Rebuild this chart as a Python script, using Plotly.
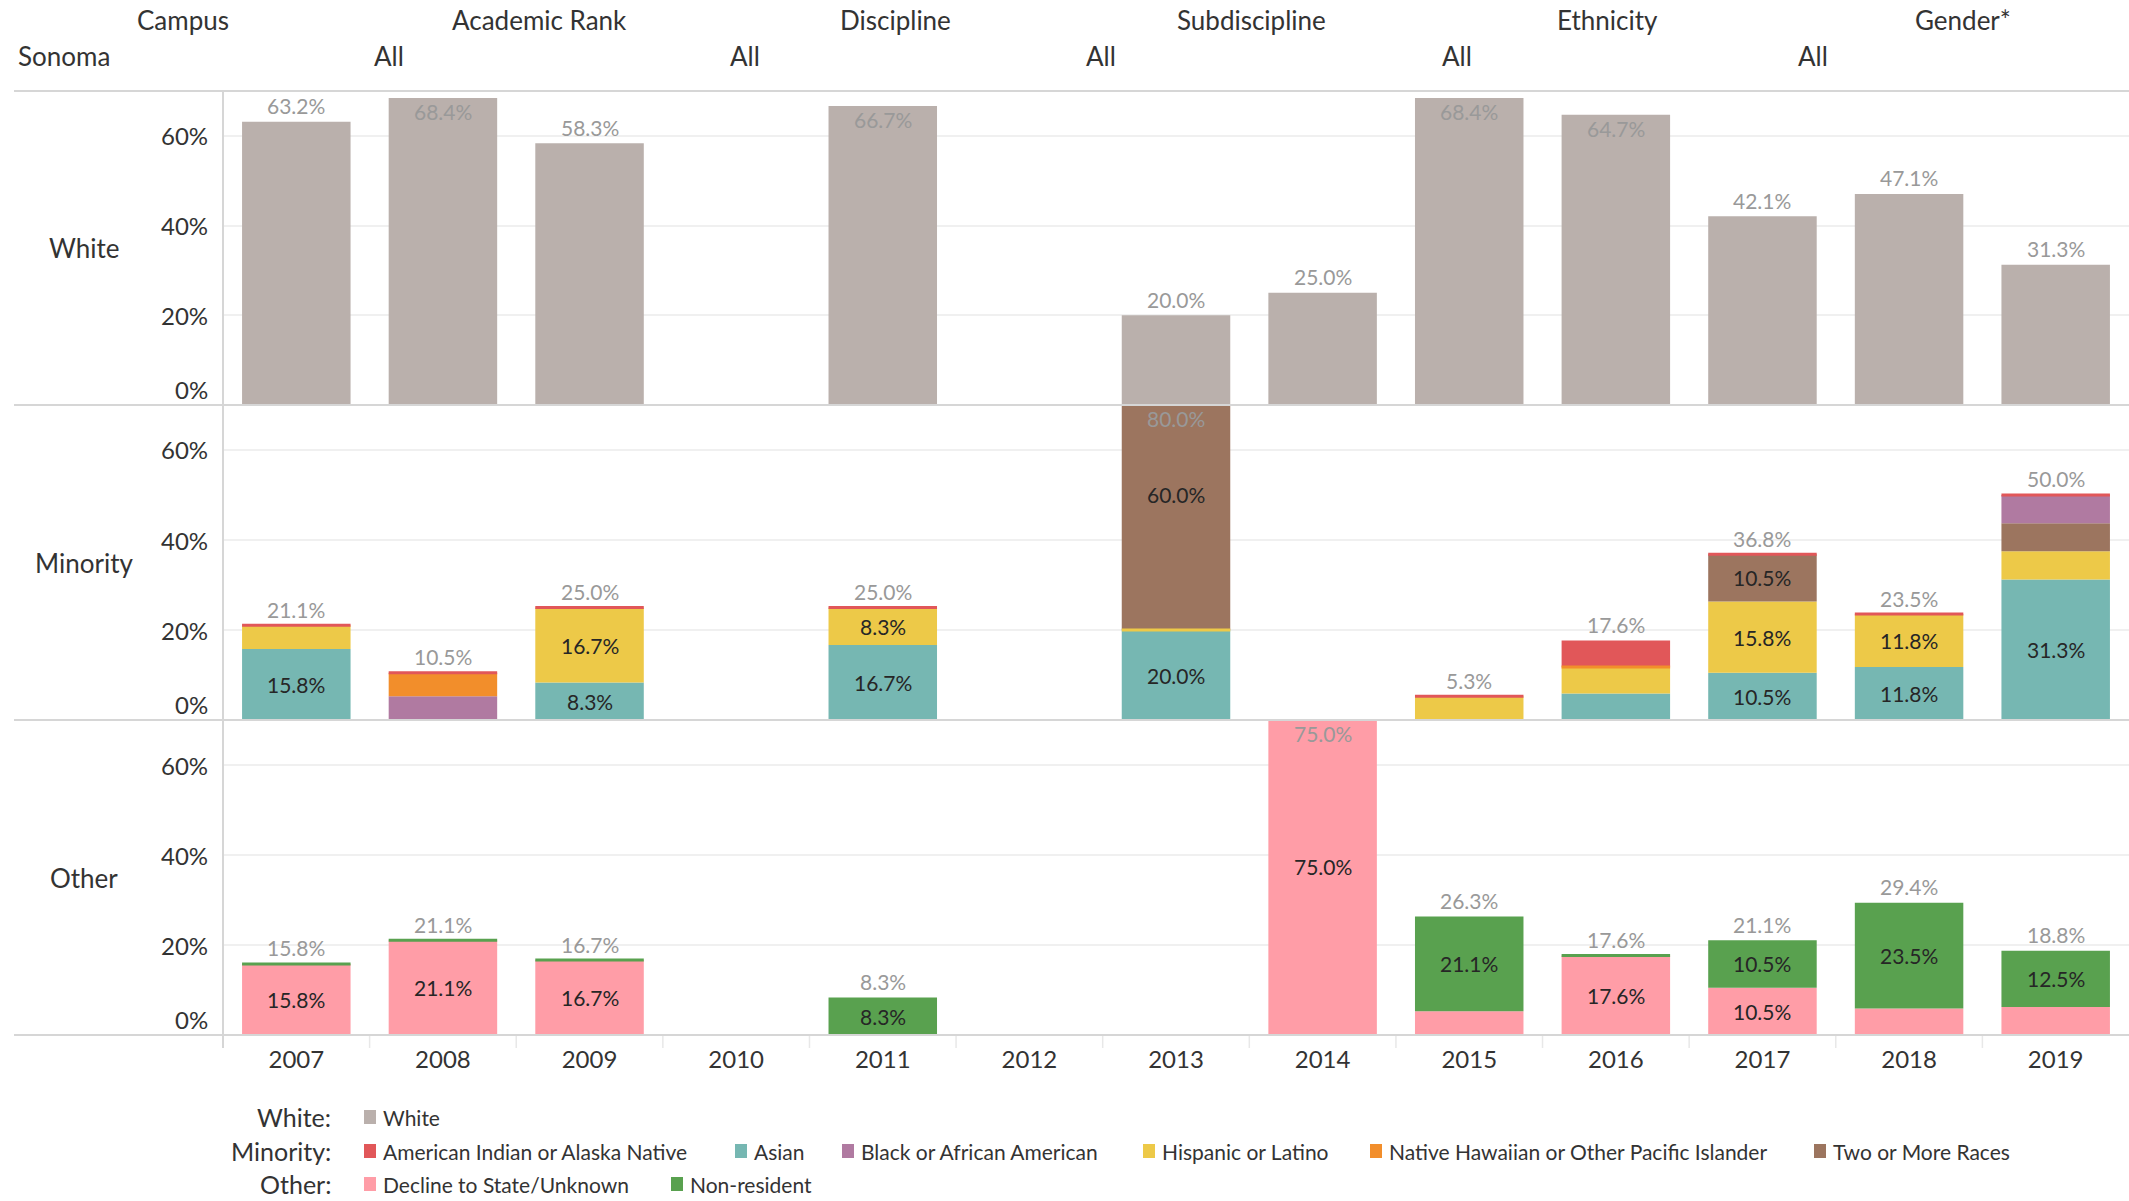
import plotly.graph_objects as go

# ---- data -------------------------------------------------------------
years = [2007, 2008, 2009, 2010, 2011, 2012, 2013, 2014, 2015, 2016, 2017, 2018, 2019]

# share of faculty (%) by ethnicity group; None = no faculty that year,
# 0 = category present with zero share (drawn as a hairline)
white = [63.158, 68.421, 58.333, None, 66.667, None, 20.0, 25.0, 68.421, 64.706, 42.105, 47.059, 31.25]

asian = [15.789, None, 8.333, None, 16.667, None, 20.0, None, None, 5.882, 10.526, 11.765, 31.25]
hispanic = [5.263, None, 16.667, None, 8.333, None, 0, None, 5.263, 5.882, 15.789, 11.765, 6.25]
two_or_more = [None, None, None, None, None, None, 60.0, None, None, None, 10.526, None, 6.25]
black = [None, 5.263, None, None, None, None, None, None, None, None, None, None, 6.25]
hawaiian = [None, 5.263, None, None, None, None, None, None, None, 0, None, None, None]
am_indian = [0, 0, 0, None, 0, None, None, None, 0, 5.882, 0, 0, 0]

decline = [15.789, 21.053, 16.667, None, None, None, None, 75.0, 5.263, 17.647, 10.526, 5.882, 6.25]
nonresident = [0, 0, 0, None, 8.333, None, None, None, 21.053, 0, 10.526, 23.529, 12.5]

row_names = ["White", "Minority", "Other"]
y_ticks = [0, 20, 40, 60]
filter_titles = ["Campus", "Academic Rank", "Discipline", "Subdiscipline", "Ethnicity", "Gender*"]
filter_values = ["Sonoma", "All", "All", "All", "All", "All"]

# ---- styling ------------------------------------------------------------
FONT = "Lato, 'Open Sans', sans-serif"
W, H = 2129, 1201
C = {
    "White": "#bab0ac",
    "American Indian or Alaska Native": "#e15759",
    "Asian": "#76b7b2",
    "Black or African American": "#b07aa1",
    "Hispanic or Latino": "#edc948",
    "Native Hawaiian or Other Pacific Islander": "#f28e2b",
    "Two or More Races": "#9c755f",
    "Decline to State/Unknown": "#ff9da7",
    "Non-resident": "#59a14f",
}
panels = [
    [("White", white)],
    [("Asian", asian), ("Hispanic or Latino", hispanic), ("Two or More Races", two_or_more),
     ("Black or African American", black), ("Native Hawaiian or Other Pacific Islander", hawaiian),
     ("American Indian or Alaska Native", am_indian)],
    [("Decline to State/Unknown", decline), ("Non-resident", nonresident)],
]

YMAX = 70
BAR_W = 0.74
LEFT_PX = 223
row_px = [(91, 405), (405, 720), (720, 1035)]  # top, bottom in pixels
TXT = "#333333"
LBL_SIZE = 21


def px_x(p):
    return p / W


def px_y(p):
    return 1 - p / H


def fmt(v):
    return f"{v + 1e-9:.1f}%"


def note(x, y, text, size, color=TXT, xanchor="center", **kw):
    return dict(x=x, y=y, text=text, showarrow=False, xanchor=xanchor, yanchor="middle",
                font=dict(family=FONT, size=size, color=color), **kw)


fig = go.Figure()
annotations = []
shapes = []

for r, series in enumerate(panels):
    ax = "" if r == 0 else str(r + 1)
    xref, yref = "x" + ax, "y" + ax
    cum = [0.0] * len(years)
    present = [False] * len(years)
    for name, vals in series:
        bx, by, bb = [], [], []
        lx, ly = [], []
        for i, v in enumerate(vals):
            if v is None:
                continue
            present[i] = True
            if v == 0:
                lx += [years[i] - BAR_W / 2, years[i] + BAR_W / 2, None]
                ly += [cum[i], cum[i], None]
                continue
            bx.append(years[i])
            by.append(v)
            bb.append(cum[i])
            # segment labels only where a row is split into several groups
            if len(series) > 1 and v >= 8:
                annotations.append(note(years[i], cum[i] + v / 2, fmt(v), LBL_SIZE, "#262626",
                                        xref=xref, yref=yref))
            cum[i] += v
        fig.add_trace(go.Bar(
            x=bx, y=by, base=bb, width=BAR_W, name=name, marker=dict(color=C[name], line=dict(width=0)),
            xaxis=xref, yaxis=yref, showlegend=False,
            hovertemplate=name + " %{x}: %{y:.1f}%<extra></extra>"))
        if lx:
            fig.add_trace(go.Scatter(
                x=lx, y=ly, mode="lines", line=dict(color=C[name], width=3),
                xaxis=xref, yaxis=yref, showlegend=False, hoverinfo="skip"))
    # totals: above the bar, or tucked inside its top when there is no room
    for i, yr in enumerate(years):
        if not present[i]:
            continue
        t = cum[i]
        if t + 6 > YMAX:
            annotations.append(note(yr, min(t, YMAX) - 3.1, fmt(t), LBL_SIZE, "#999999",
                                    xref=xref, yref=yref))
        else:
            annotations.append(note(yr, t, fmt(t), LBL_SIZE, "#999999", xref=xref, yref=yref, yshift=16))
    # y tick labels
    for v in y_ticks:
        annotations.append(note(px_x(210), v, f"{v}%", 24, xanchor="right", xref="paper", yref=yref,
                                yshift=16 if v == 0 else 0))
    top, bot = row_px[r]
    annotations.append(note(px_x(84), px_y((top + bot) / 2), row_names[r], 26, xref="paper", yref="paper"))
    fig.update_layout({
        "xaxis" + ax: dict(domain=[LEFT_PX / W, 1], range=[2006.5, 2019.5], anchor=yref,
                          showgrid=False, zeroline=False, tickvals=years,
                          showticklabels=(r == 2), ticks="", ticklabelstandoff=8,
                          tickfont=dict(family=FONT, size=24, color=TXT),
                          matches=None if r == 0 else "x"),
        "yaxis" + ax: dict(domain=[px_y(bot), px_y(top)], range=[0, YMAX], anchor=xref,
                          tickvals=y_ticks, showticklabels=False, showgrid=True,
                          gridcolor="#f0f0f0", gridwidth=2, zeroline=False),
    })

# frame lines
for yy in [91, 405, 720, 1035]:
    shapes.append(dict(type="line", xref="paper", yref="paper", x0=px_x(14), x1=1,
                       y0=px_y(yy), y1=px_y(yy), line=dict(color="#d6d6d6", width=2)))
shapes.append(dict(type="line", xref="paper", yref="paper", x0=px_x(LEFT_PX), x1=px_x(LEFT_PX),
                   y0=px_y(1048), y1=px_y(91), line=dict(color="#d6d6d6", width=2)))
for k in range(1, len(years)):
    xb = years[k] - 0.5
    shapes.append(dict(type="line", xref="x3", yref="paper", x0=xb, x1=xb,
                       y0=px_y(1048), y1=px_y(1036), line=dict(color="#e8e8e8", width=1.5)))

# filter header
col_w = 356
for k, (t, v) in enumerate(zip(filter_titles, filter_values)):
    annotations.append(note(px_x(5 + col_w * k + col_w / 2), px_y(20), t, 26, xref="paper", yref="paper"))
    annotations.append(note(px_x(16 + col_w * k), px_y(56), v, 26, xanchor="left",
                            xref="paper", yref="paper"))

# legend
legend_rows = [
    ("White:", 1117, [("White", 364)]),
    ("Minority:", 1151, [("American Indian or Alaska Native", 364), ("Asian", 735),
                         ("Black or African American", 842), ("Hispanic or Latino", 1143),
                         ("Native Hawaiian or Other Pacific Islander", 1370), ("Two or More Races", 1814)]),
    ("Other:", 1184, [("Decline to State/Unknown", 364), ("Non-resident", 671)]),
]
for label, yy, items in legend_rows:
    annotations.append(note(px_x(333), px_y(yy), label, 25, xanchor="right", xref="paper", yref="paper"))
    for name, xx in items:
        shapes.append(dict(type="rect", xref="paper", yref="paper", x0=px_x(xx), x1=px_x(xx + 12),
                           y0=px_y(yy + 7), y1=px_y(yy - 7), fillcolor=C[name], line=dict(width=0)))
        annotations.append(note(px_x(xx + 17), px_y(yy), name, 21, xanchor="left",
                                xref="paper", yref="paper"))

fig.update_layout(
    width=W, height=H, margin=dict(l=0, r=0, t=0, b=0),
    paper_bgcolor="white", plot_bgcolor="white", barmode="overlay",
    annotations=annotations, shapes=shapes, showlegend=False,
    font=dict(family=FONT, color=TXT),
)

fig.write_html("out.html")
